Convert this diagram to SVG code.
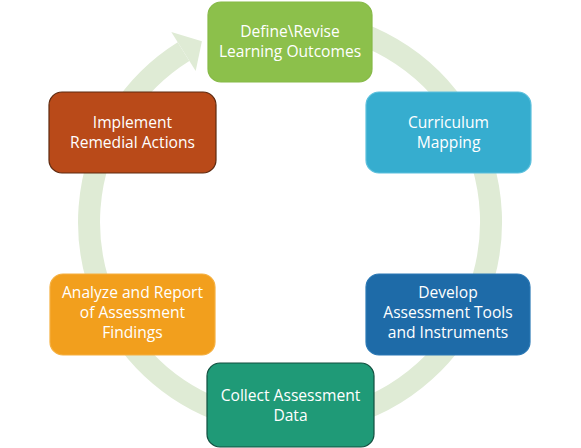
<svg xmlns="http://www.w3.org/2000/svg" width="581" height="448" viewBox="0 0 581 448">
<style>
.lbl{font-family:"Open Sans","Liberation Sans",sans-serif;font-size:15.6px;fill:#ffffff;text-anchor:middle}
.box{stroke-width:1.2}
</style>
<rect width="581" height="448" fill="#ffffff"/>
<g id="connectors">
<path d="M307.5,21.8 A201,201 0 1 1 183.5,51.6" fill="none" stroke="#dfebd5" stroke-width="22"/>
<polygon points="171.3,32 201.9,41.3 195.7,71.1" fill="#dfebd5"/>
</g>
<g id="define">
<rect class="box" x="208" y="2" width="164" height="80" rx="13" fill="#8cc04b" stroke="#86b947"/>
<text class="lbl" x="290" y="37">Define\Revise</text>
<text class="lbl" x="290" y="57">Learning Outcomes</text>
</g>
<g id="curriculum">
<rect class="box" x="366" y="92" width="165" height="81" rx="13" fill="#36adcf" stroke="#5cc0dd"/>
<text class="lbl" x="448.5" y="128">Curriculum</text>
<text class="lbl" x="448.5" y="148">Mapping</text>
</g>
<g id="develop">
<rect class="box" x="366" y="274" width="164" height="81" rx="13" fill="#1e6ba8" stroke="#2a78b5"/>
<text class="lbl" x="448" y="298">Develop</text>
<text class="lbl" x="448" y="318">Assessment Tools</text>
<text class="lbl" x="448" y="338">and Instruments</text>
</g>
<g id="collect">
<rect class="box" x="207" y="363" width="167" height="84" rx="13" fill="#1f9a77" stroke="#124f3f"/>
<text class="lbl" x="290.5" y="401">Collect Assessment</text>
<text class="lbl" x="290.5" y="421">Data</text>
</g>
<g id="analyze">
<rect class="box" x="50" y="274" width="165" height="81" rx="13" fill="#f29f1d" stroke="#f5b040"/>
<text class="lbl" x="132.5" y="298">Analyze and Report</text>
<text class="lbl" x="132.5" y="318">of Assessment</text>
<text class="lbl" x="132.5" y="338">Findings</text>
</g>
<g id="implement">
<rect class="box" x="49" y="92" width="167" height="81" rx="13" fill="#b94a19" stroke="#5e2a10"/>
<text class="lbl" x="132.5" y="128">Implement</text>
<text class="lbl" x="132.5" y="148">Remedial Actions</text>
</g>
</svg>
